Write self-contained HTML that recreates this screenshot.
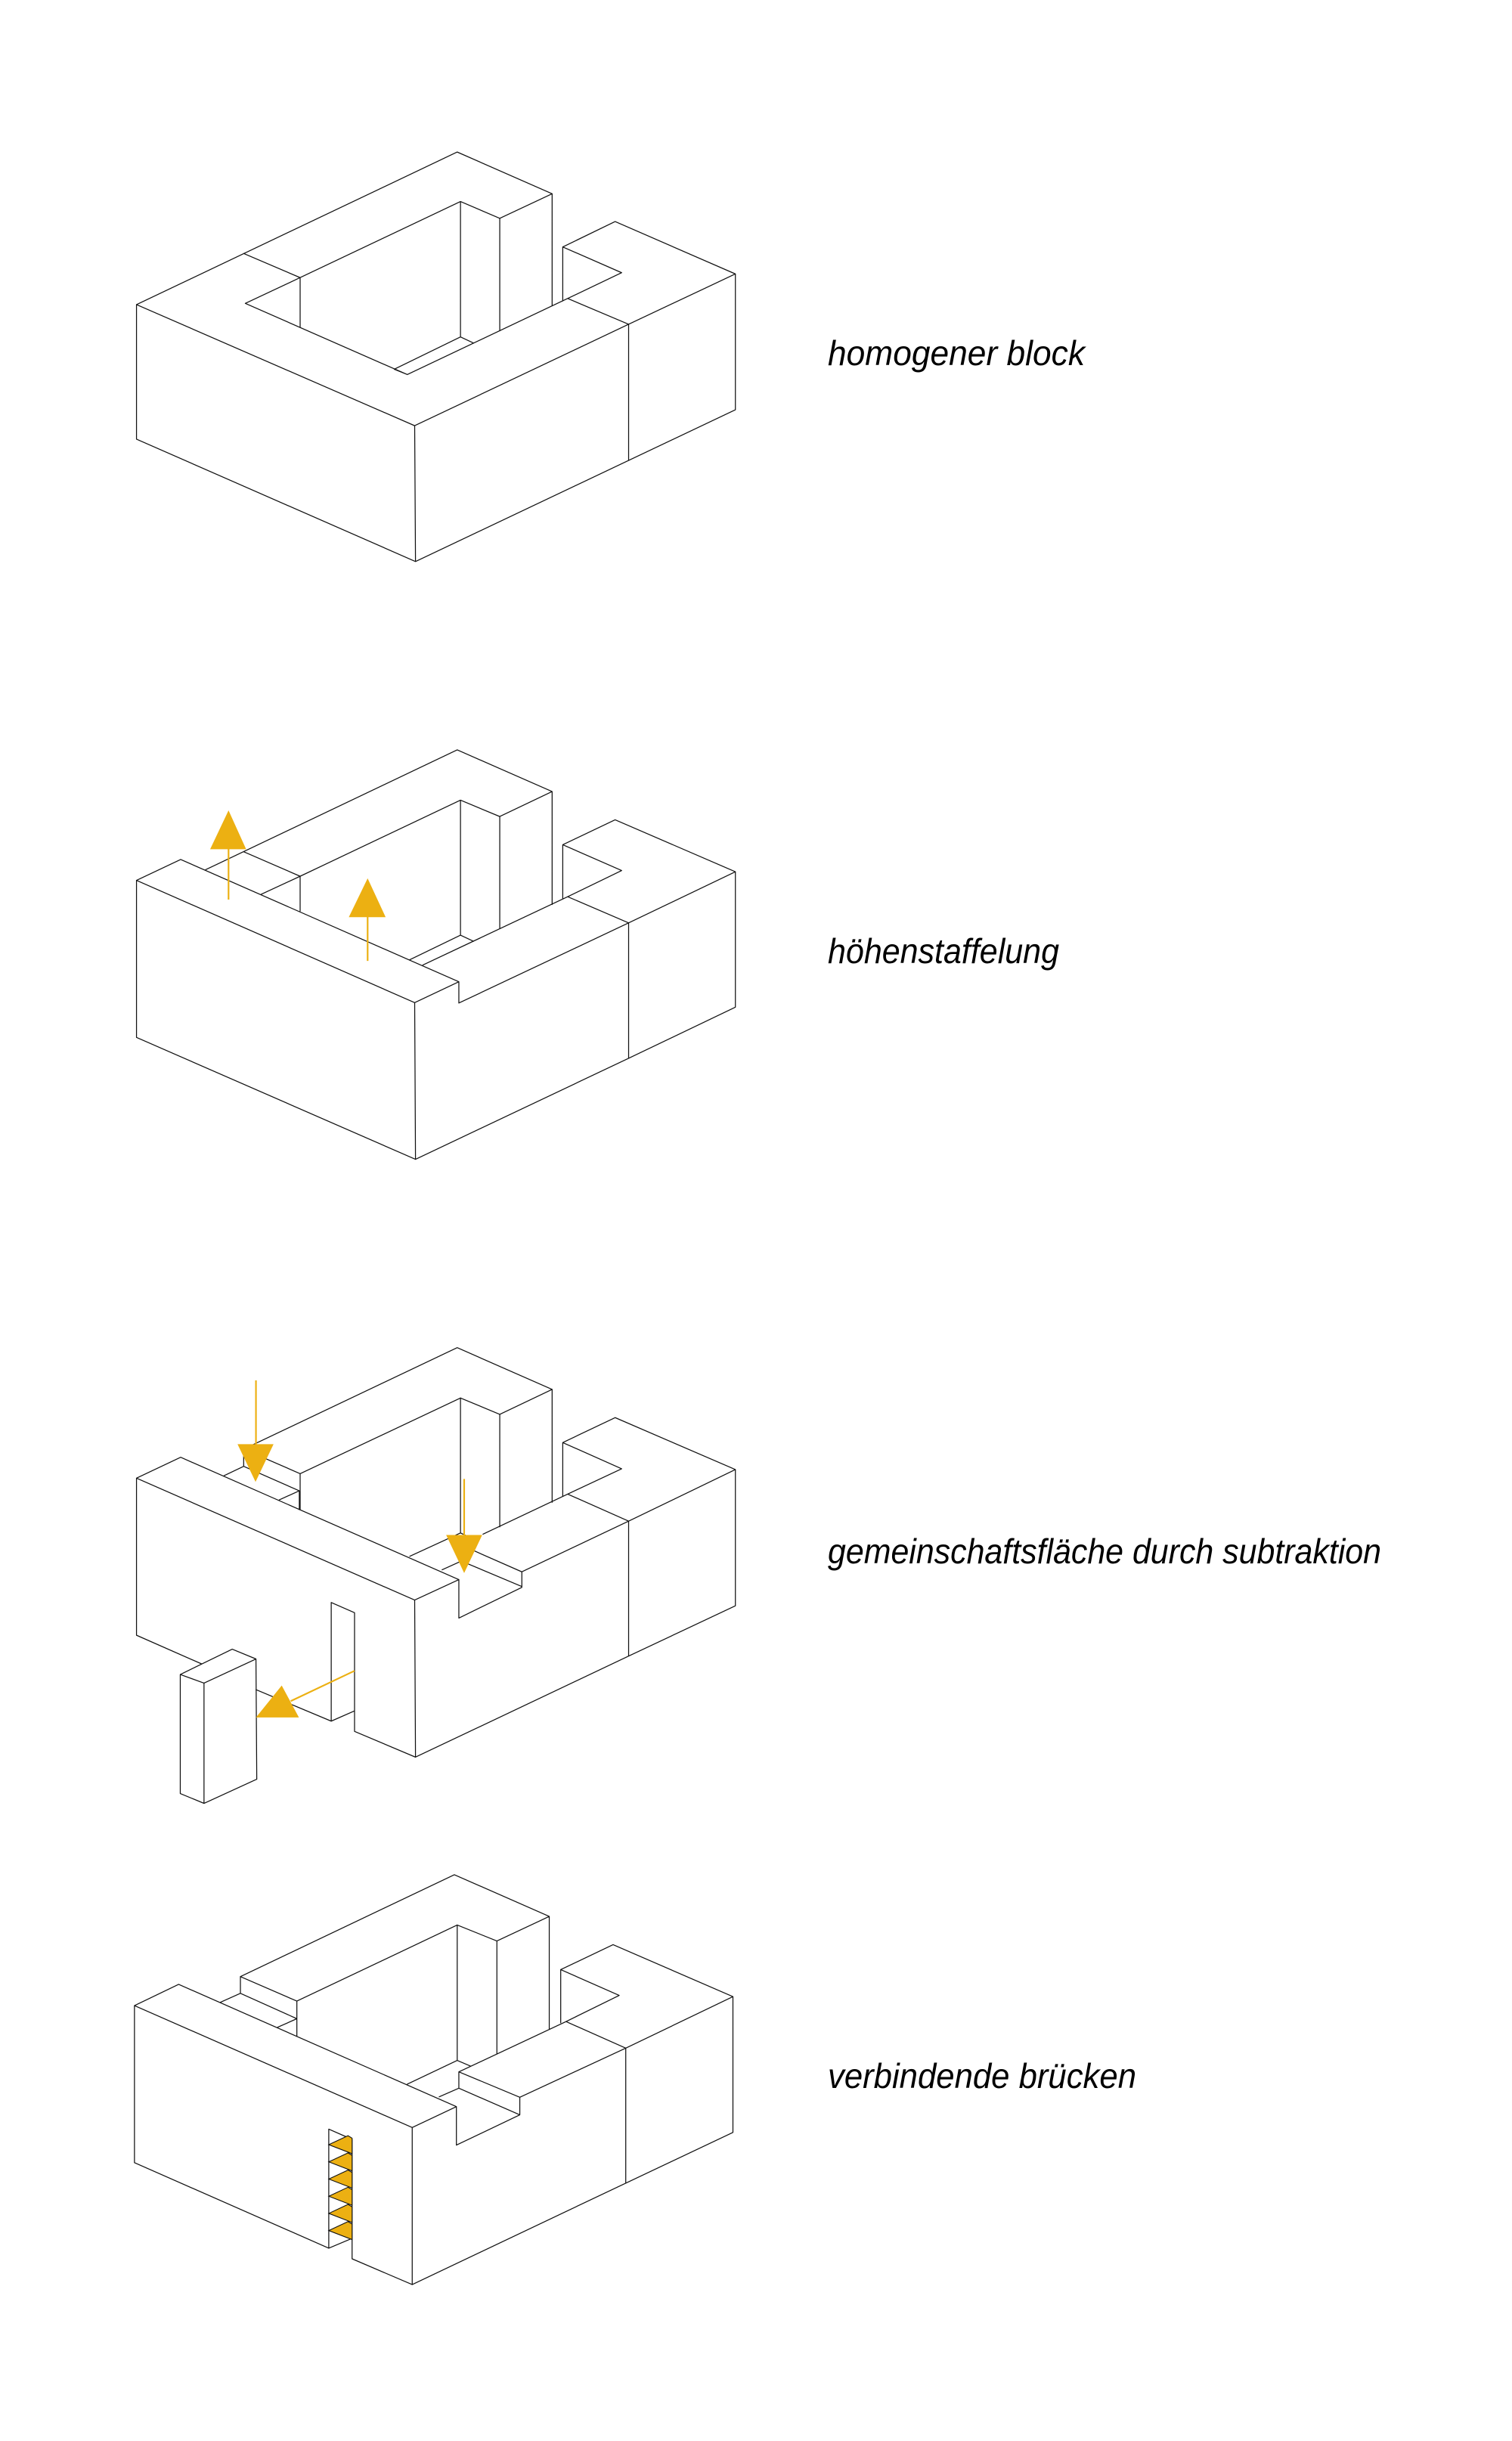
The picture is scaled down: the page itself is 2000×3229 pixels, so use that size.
<!DOCTYPE html>
<html><head><meta charset="utf-8"><style>
html,body{margin:0;padding:0;background:#fff;}
svg{display:block;}
.l{fill:none;stroke:#111;stroke-width:2.3;stroke-linejoin:round;stroke-linecap:round;}
.y{fill:#ECB012;stroke:none;}
.ys{fill:none;stroke:#ECB012;stroke-width:4;}
.st{fill:#ECB012;stroke:#111;stroke-width:2;}
text{font-family:"Liberation Sans",sans-serif;font-style:italic;font-size:46px;fill:#000;}
</style></head><body>
<svg width="2000" height="3229" viewBox="0 0 2000 3229" xmlns="http://www.w3.org/2000/svg">
<rect width="2000" height="3229" fill="#fff"/>

<!-- Diagram 1 -->
<g transform="translate(160,160) scale(0.5411)">
<path class="l" d="M38,449 L38,778 L720,1077 L1241,830 L1502,706 L1502,374 L1208,246 L1080,308 L1080,440
M38,449 L718,745 L1241,497 L1502,374 M718,745 L720,1077 M1241,497 L1241,830
M38,449 L822,76 L1054,178 L1054,452
M300,324 L438,383 M438,383 L830,197 L926,238 L1054,178 M830,197 L830,528 M926,238 L926,513 M438,383 L438,505
M304,446 L438,383 M304,446 L700,620 M668,607 L830,528 L862,543 M668,607 L700,620 M700,620 L1092,434
M1080,308 L1224,371 L1092,434 L1241,497"/>
</g>

<!-- Diagram 2 -->
<g transform="translate(160,960) scale(0.5411)">
<path class="l" d="M38,378 L146,327 L826,626 L718,677 Z M38,378 L38,762 L720,1060 L1241,813 L1502,688 L1502,357 L1208,230 L1080,291 L1080,422
M718,677 L720,1060 M826,626 L826,678 L1241,482 L1502,357 M1241,482 L1241,813 M1092,418 L1241,482
M1080,291 L1224,354 L1092,418
M207,352 L822,59 L1054,161 L1054,437 M300,308 L438,368 L438,453 M343,412 L438,368 L830,182 L926,222 L1054,161
M830,182 L830,512 M926,222 L926,496 M706,572 L830,512 L862,527 M738,585 L1092,418"/>
<path class="ys" d="M263,300 L263,425 M603,466 L603,575"/>
<path class="y" d="M218,302 L306,302 L263,207 Z M557,468 L647,468 L603,373 Z"/>
</g>

<!-- Diagram 3 -->
<g transform="translate(160,1760) scale(0.5411)">
<path class="l" d="M38,361 L146,310 L826,609 L718,659 Z M38,361 L38,745 L197,815 M718,659 L720,1043 L1241,796 L1502,673 L1502,340 L1208,213 L1080,274 L1080,405
M514,665 L571,690 L571,980 L720,1043 M514,665 L514,955 L571,930 M330,878 L514,955
M145,841 L272,779 L330,803 L203,862 Z M145,841 L145,1132 L203,1156 L332,1097 L330,803 M203,862 L203,1156
M826,609 L826,703 L980,628 L980,590 L1241,466 M862,538 L980,590 M840,567 L980,626 M785,585 L840,560 M706,552 L830,495 L862,510
M885,498 L1092,400 M1080,274 L1224,338 L1092,400 L1241,466 L1502,340 M1241,466 L1241,796
M822,42 L1054,144 L1054,420 M830,165 L926,205 L1054,144 M830,165 L830,495 M926,205 L926,480 M438,350 L830,165
M300,290 L822,42 M300,290 L438,350 L438,438 M300,290 L300,332 M252,355 L300,332 L436,392 L387,414 M436,392 L436,438"/>
<path class="ys" d="M330,122 L330,280 M839,363 L839,500 M571,832 L415,906"/>
<path class="y" d="M285,278 L373,278 L329,370 Z M795,500 L883,500 L839,593 Z M330,946 L435,946 L393,868 Z"/>
</g>

<!-- Diagram 4 -->
<g transform="translate(160,2389) scale(0.5411)">
<path class="l" d="M33,488 L141,436 L820,735 L712,786 Z M33,488 L33,872 L508,1081 L508,790 L565,815 L565,1107 L712,1170 L1234,922 L1496,798 L1496,466 L1203,339 L1075,400 L1075,530
M712,786 L712,1170 M508,1081 L565,1057
M820,735 L820,829 L975,755 L975,712 L1234,592 L1496,466 M1234,592 L1234,922
M826,650 L826,690 L975,755 M826,650 L975,712 M778,711 L826,690 M826,650 L1088,527 M700,680 L822,622 L855,636
M1075,400 L1218,463 L1088,527 L1234,592
M292,417 L815,168 L1047,270 L1047,545 M822,291 L919,330 L1047,270 M822,291 L822,622 M919,330 L919,605 M430,477 L822,291
M292,417 L430,477 L430,563 M292,417 L292,458 M243,480 L292,458 L430,520 L383,541"/>
<path class="st" d="M508,828 L555,806 L565,812 L565,850 Z M508,870 L555,848 L565,854 L565,892 Z M508,912 L555,890 L565,896 L565,934 Z M508,954 L555,932 L565,938 L565,976 Z M508,996 L555,974 L565,980 L565,1018 Z M508,1038 L555,1016 L565,1022 L565,1060 Z"/>
</g>

<text x="1095" y="483" textLength="340" lengthAdjust="spacingAndGlyphs">homogener block</text>
<text x="1095" y="1274" textLength="306" lengthAdjust="spacingAndGlyphs">höhenstaffelung</text>
<text x="1095" y="2068" textLength="732" lengthAdjust="spacingAndGlyphs">gemeinschaftsfläche durch subtraktion</text>
<text x="1095" y="2762" textLength="408" lengthAdjust="spacingAndGlyphs">verbindende brücken</text>
</svg>
</body></html>
